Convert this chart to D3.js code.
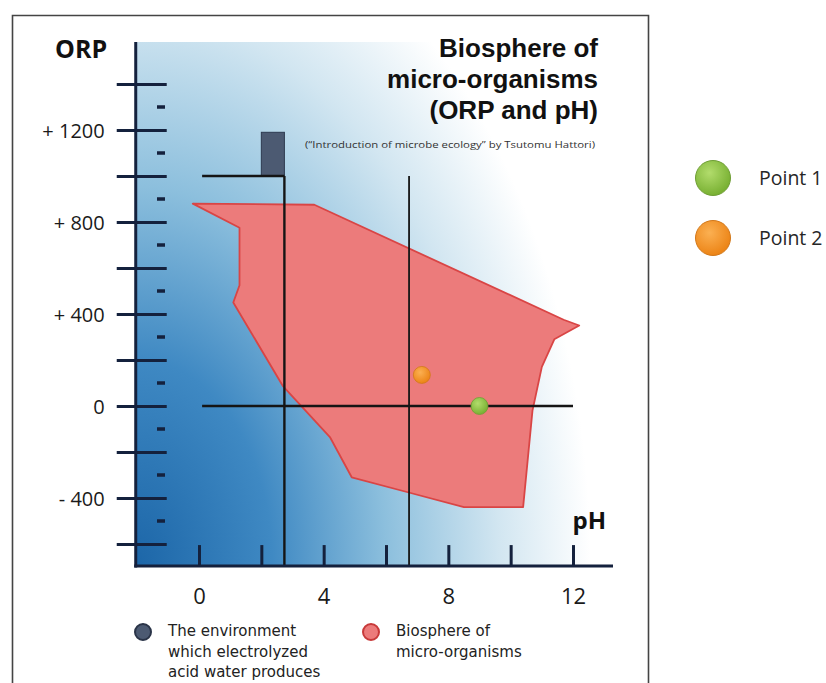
<!DOCTYPE html>
<html>
<head>
<meta charset="utf-8">
<script src="https://cdn.jsdelivr.net/npm/d3@7"></script>
<style>
  body { margin: 0; background: #fff; }
  svg { display: block; }
</style>
</head>
<body>
<div id="chart"></div>
<script>
// ticks and labels
var phTicks = [0, 2, 4, 6, 8, 10, 12];
var phLabels = [0, 4, 8, 12];
var orpMajor = [-600, -400, -200, 0, 200, 400, 600, 800, 1000, 1200, 1400];
var orpMinor = [-500, -300, -100, 100, 300, 500, 700, 900, 1100, 1300];
var orpLabelValues = [1200, 800, 400, 0, -400];
var orpLabelText = ["+ 1200", "+ 800", "+ 400", "0", "- 400"];

// biosphere of micro-organisms outline [pH, ORP]
var biosphere = [
  [-0.2, 880], [3.7, 875], [11.7, 375], [12.2, 350], [11.4, 290],
  [11.0, 170], [10.7, -20], [10.4, -440], [8.5, -440], [6.7, -375],
  [4.9, -310], [4.2, -135], [2.7, 85], [1.1, 450], [1.3, 525], [1.3, 775]
];
// environment of electrolyzed acid water [pH from, pH to, ORP from, ORP to]
var acidWater = [2.0, 2.74, 1000, 1190];
// reference lines [pH1, ORP1, pH2, ORP2]
var refLines = [
  [0.1, 1000, 2.74, 1000],
  [2.74, 1000, 2.74, -700],
  [6.74, 1000, 6.74, -700],
  [0.1, 0, 12, 0]
];
var pointNames = ["Point 1", "Point 2"];
var pointPH = [9.0, 7.15];
var pointORP = [0, 135];

var W = 826, H = 683;
var svg = d3.select("#chart").append("svg").attr("width", W).attr("height", H);

var x = d3.scaleLinear().domain([0, 12]).range([199, 573]);
var y = d3.scaleLinear().domain([-600, 1400]).range([544, 84]);
var x0 = x(-2.03), x1 = 613, yTop = 42, yBot = y(-696);

var defs = svg.append("defs");
var bg = defs.append("radialGradient").attr("id", "bg")
  .attr("gradientUnits", "userSpaceOnUse")
  .attr("cx", 0).attr("cy", 0).attr("r", 1)
  .attr("gradientTransform", "translate(" + x0 + " " + yBot + ") scale(455 690)");
[[0, "#1c66a8"], [0.3, "#3f89c3"], [0.55, "#8cbfdd"], [0.8, "#d2e6f1"], [1, "#ffffff"]]
  .forEach(function (s) { bg.append("stop").attr("offset", s[0]).attr("stop-color", s[1]); });

function ball(id, c0, c1) {
  var g = defs.append("radialGradient").attr("id", id)
    .attr("cx", "40%").attr("cy", "35%").attr("r", "65%");
  g.append("stop").attr("offset", 0).attr("stop-color", c0);
  g.append("stop").attr("offset", 1).attr("stop-color", c1);
}
ball("green", "#b2dc6c", "#78b032");
ball("orange", "#fbb052", "#ec8416");
var ballFill = ["url(#green)", "url(#orange)"];
var ballStroke = ["#6f9e35", "#d2781a"];

// frame
svg.append("path").attr("d", "M12.5,683 V15.5 H648.5 V683")
  .attr("fill", "none").attr("stroke", "#444").attr("stroke-width", 1.6);

// gradient background
svg.append("rect").attr("x", x0).attr("y", yTop).attr("width", x1 - x0).attr("height", yBot - yTop)
  .attr("fill", "url(#bg)");

// biosphere polygon
svg.append("path")
  .attr("d", d3.line().x(function (d) { return x(d[0]); }).y(function (d) { return y(d[1]); })(biosphere) + "Z")
  .attr("fill", "#ec7b7b").attr("stroke", "#d94545").attr("stroke-width", 1.8)
  .attr("stroke-linejoin", "round");

// acid water box
svg.append("rect")
  .attr("x", x(acidWater[0])).attr("y", y(acidWater[3]))
  .attr("width", x(acidWater[1]) - x(acidWater[0])).attr("height", y(acidWater[2]) - y(acidWater[3]))
  .attr("fill", "#4c5a72").attr("stroke", "#2e3a50").attr("stroke-width", 1);

// reference lines
svg.selectAll(".ref").data(refLines).enter().append("line")
  .attr("x1", function (d) { return x(d[0]); }).attr("y1", function (d) { return y(d[1]); })
  .attr("x2", function (d) { return x(d[2]); }).attr("y2", function (d) { return y(d[3]); })
  .attr("stroke", "#151515")
  .attr("stroke-width", function (d, i) { return i == 2 ? 1.8 : 2.4; });

// axes
var axisColor = "#14213d";
var gy = svg.append("g").attr("transform", "translate(" + x0 + ",0)");
gy.append("g").call(d3.axisLeft(y).tickValues(orpMajor).tickSize(19).tickFormat(""));
gy.append("g").call(d3.axisRight(y).tickValues(orpMajor).tickSize(31).tickFormat(""));
gy.append("g").call(d3.axisLeft(y).tickValues(orpLabelValues).tickSize(0).tickPadding(31)
  .tickFormat(function (d) { return orpLabelText[orpLabelValues.indexOf(d)]; }));
gy.selectAll(".domain").remove();
gy.selectAll("line").attr("stroke", axisColor).attr("stroke-width", 3);
gy.selectAll("text").attr("font-family", "Open Sans").attr("font-size", 20).attr("fill", "#1a1a1a")
  .attr("dy", "0.36em");
svg.selectAll(".minor").data(orpMinor).enter().append("line")
  .attr("x1", 157).attr("x2", 165)
  .attr("y1", function (d) { return y(d); }).attr("y2", function (d) { return y(d); })
  .attr("stroke", axisColor).attr("stroke-width", 3.5);

var gx = svg.append("g").attr("transform", "translate(0," + yBot + ")");
gx.append("g").call(d3.axisBottom(x).tickValues(phTicks).tickSize(-21).tickFormat(""));
gx.append("g").call(d3.axisBottom(x).tickValues(phLabels).tickSize(0).tickPadding(22).tickFormat(d3.format("d")));
gx.selectAll(".domain").remove();
gx.selectAll("line").attr("stroke", axisColor).attr("stroke-width", 3);
gx.selectAll("text").attr("font-family", "Open Sans").attr("font-size", 22).attr("fill", "#1a1a1a");

svg.append("line").attr("x1", x0).attr("x2", x0).attr("y1", yTop).attr("y2", yBot + 1.5)
  .attr("stroke", axisColor).attr("stroke-width", 3);
svg.append("line").attr("x1", x0 - 1.5).attr("x2", x1).attr("y1", yBot).attr("y2", yBot)
  .attr("stroke", axisColor).attr("stroke-width", 3);

// axis titles
svg.append("text").attr("x", 55).attr("y", 58).text("ORP")
  .attr("font-family", "Open Sans").attr("font-weight", "bold").attr("font-size", 25).attr("fill", "#111");
svg.append("text").attr("x", 606).attr("y", 529).attr("text-anchor", "end").text("pH")
  .attr("font-family", "Open Sans").attr("font-weight", "bold").attr("font-size", 24).attr("fill", "#111");

// title
["Biosphere of", "micro-organisms", "(ORP and pH)"].forEach(function (t, i) {
  svg.append("text").attr("x", 598).attr("y", 57 + i * 31).attr("text-anchor", "end").text(t)
    .attr("font-family", "Liberation Sans").attr("font-weight", "bold").attr("font-size", 26).attr("fill", "#111");
});
svg.append("text").attr("x", 305).attr("y", 148)
  .attr("textLength", 290).attr("lengthAdjust", "spacingAndGlyphs")
  .text("(\u201CIntroduction of microbe ecology\u201D by Tsutomu Hattori)")
  .attr("font-family", "Open Sans").attr("font-size", 9).attr("fill", "#333");

// points
svg.selectAll(".pt").data(pointNames).enter().append("circle")
  .attr("cx", function (d, i) { return x(pointPH[i]); })
  .attr("cy", function (d, i) { return y(pointORP[i]); })
  .attr("r", 8.5)
  .attr("fill", function (d, i) { return ballFill[i]; })
  .attr("stroke", function (d, i) { return ballStroke[i]; }).attr("stroke-width", 0.8);

// right legend
var lg = svg.selectAll(".lg").data(pointNames).enter().append("g")
  .attr("transform", function (d, i) { return "translate(713," + (178 + i * 60) + ")"; });
lg.append("circle").attr("r", 17.5)
  .attr("fill", function (d, i) { return ballFill[i]; })
  .attr("stroke", function (d, i) { return ballStroke[i]; }).attr("stroke-width", 1);
lg.append("text").attr("x", 46).attr("y", 7).text(function (d) { return d; })
  .attr("font-family", "Open Sans").attr("font-size", 19.5).attr("fill", "#262626");

// bottom legend
var bottomLegend = [
  { lines: ["The environment", "which electrolyzed", "acid water produces"], fill: "#4c5a72", stroke: "#2a3448", cx: 143 },
  { lines: ["Biosphere of", "micro-organisms"], fill: "#ec7b7b", stroke: "#c83a3a", cx: 371 }
];
bottomLegend.forEach(function (l) {
  svg.append("circle").attr("cx", l.cx).attr("cy", 632).attr("r", 8)
    .attr("fill", l.fill).attr("stroke", l.stroke).attr("stroke-width", 2);
  l.lines.forEach(function (t, i) {
    svg.append("text").attr("x", l.cx + 25).attr("y", 636 + i * 20.5).text(t)
      .attr("font-family", "DejaVu Sans").attr("font-size", 15).attr("fill", "#222");
  });
});
</script>
</body>
</html>
